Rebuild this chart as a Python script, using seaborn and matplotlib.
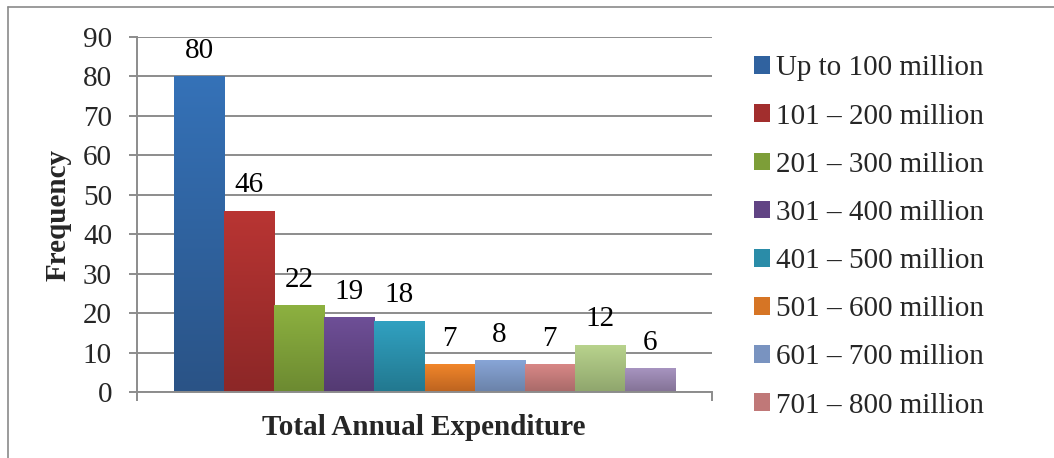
import numpy as np
import pandas as pd
import matplotlib
matplotlib.use("Agg")
import matplotlib.pyplot as plt
import matplotlib.colors as mcolors
from matplotlib.lines import Line2D
import seaborn as sns

# Expenditure bands and how many respondents fall in each
bands = [
    "Up to 100 million",
    "101 – 200 million",
    "201 – 300 million",
    "301 – 400 million",
    "401 – 500 million",
    "501 – 600 million",
    "601 – 700 million",
    "701 – 800 million",
    "801 – 900 million",
    "901 – 1000 million",
]
frequency = [80, 46, 22, 19, 18, 7, 8, 7, 12, 6]
y_ticks = [0, 10, 20, 30, 40, 50, 60, 70, 80, 90]

# Gradient end colours for each series (top, bottom)
top_colors = ["#3572B8", "#B93533", "#8DB140", "#6E4F97", "#31A1C1",
              "#F1862A", "#88A5D7", "#D88786", "#B9D48D", "#A794C0"]
bottom_colors = ["#2A5386", "#8C2727", "#6C8A31", "#543A72", "#22788F",
                 "#BC6320", "#6A82A8", "#A86A69", "#8FA56D", "#837295"]
mid_colors = [mcolors.to_hex((np.array(mcolors.to_rgb(t)) + np.array(mcolors.to_rgb(b))) / 2)
              for t, b in zip(top_colors, bottom_colors)]

df = pd.DataFrame({"group": ["Total"] * len(bands), "band": bands, "frequency": frequency})

sns.set_style("white")
plt.rcParams["font.family"] = ["Liberation Serif", "DejaVu Serif"]

FS = 21
GRID = "#8C8C8C"

fig = plt.figure(figsize=(10.54, 4.58), dpi=100)
ax = fig.add_axes([137 / 1054, 1 - 392 / 458, 575 / 1054, 355 / 458])

sns.barplot(data=df, x="group", y="frequency", hue="band", hue_order=bands,
            palette=mid_colors, width=0.871, dodge=True, linewidth=0,
            saturation=1, ax=ax)

# Vertical gradient inside each bar
grad = np.linspace(0, 1, 256).reshape(-1, 1)
for patch, ct, cb in zip(ax.patches, top_colors, bottom_colors):
    x0, y0 = patch.get_x(), patch.get_y()
    w, h = patch.get_width(), patch.get_height()
    cmap = mcolors.LinearSegmentedColormap.from_list("g", [cb, ct])
    im = ax.imshow(grad, cmap=cmap, extent=(x0, x0 + w, y0, y0 + h),
                   origin="lower", aspect="auto", zorder=2.5)
    im.set_clip_path(patch)

# Value labels on top of the bars
for cont in ax.containers:
    ax.bar_label(cont, fmt="{:.0f}", padding=9, fontsize=FS, color="black")

ax.set_xlim(-0.5, 0.5)
ax.set_ylim(0, 90)
ax.set_yticks(y_ticks)
ax.set_yticklabels([str(v) for v in y_ticks], fontsize=FS)
ax.set_xticks([-0.5, 0.5])
ax.set_xticklabels(["", ""])

ax.grid(axis="y", color=GRID, linewidth=1.4)
ax.grid(axis="x", visible=False)
ax.set_axisbelow(True)
for s in ["top", "right"]:
    ax.spines[s].set_visible(False)
for s in ["left", "bottom"]:
    ax.spines[s].set_color(GRID)
    ax.spines[s].set_linewidth(1.4)
ax.tick_params(axis="y", direction="out", length=6, width=1.4, color=GRID, pad=12, left=True)
ax.tick_params(axis="x", direction="out", length=6.5, width=1.4, color=GRID, bottom=True)

ax.set_ylabel("Frequency", fontsize=FS, fontweight="bold", va="center")
ax.yaxis.set_label_coords(-0.137, 0.4986)
ax.set_xlabel("Total Annual Expenditure", fontsize=FS, fontweight="bold", va="center")
ax.xaxis.set_label_coords(0.499, -0.101)

# Legend (the chart frame only has room for the first eight entries)
handles, labels = ax.get_legend_handles_labels()
if ax.get_legend() is not None:
    ax.get_legend().remove()
leg = fig.legend(handles[:8], labels[:8], loc="center left",
                 bbox_to_anchor=(754 / 1054, 1 - 237 / 458), frameon=False,
                 fontsize=FS, handlelength=0.55, handleheight=0.55,
                 handletextpad=0.2, labelspacing=0.76, borderpad=0, borderaxespad=0)

# Chart frame (top and left edges)
fig.add_artist(Line2D([8 / 1054, 1.0], [1 - 7 / 458, 1 - 7 / 458],
                      transform=fig.transFigure, color="#8A8A8A", linewidth=1.2))
fig.add_artist(Line2D([8 / 1054, 8 / 1054], [0, 1 - 7 / 458],
                      transform=fig.transFigure, color="#8A8A8A", linewidth=1.2))

fig.savefig("out.png", dpi=100)
